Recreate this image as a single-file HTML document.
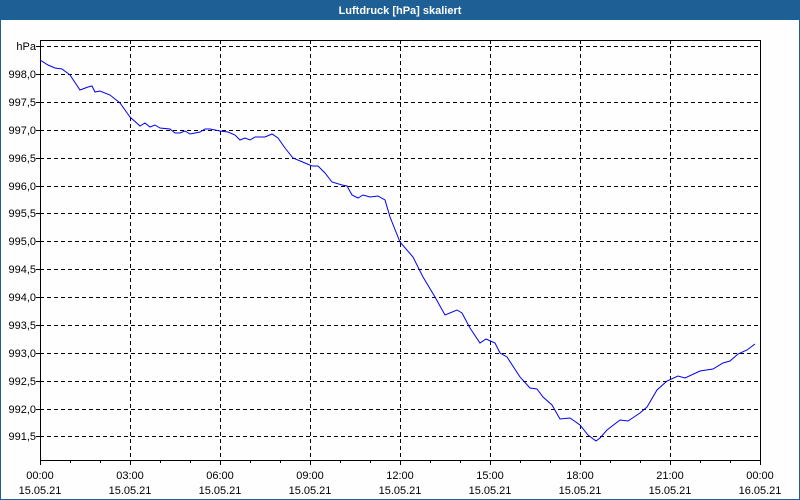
<!DOCTYPE html>
<html><head><meta charset="utf-8"><style>
html,body{margin:0;padding:0;background:#fff;}
svg{display:block;font-family:"Liberation Sans",sans-serif;}
</style></head><body>
<svg width="800" height="500" viewBox="0 0 800 500" xmlns="http://www.w3.org/2000/svg">
<rect x="0" y="0" width="800" height="500" fill="#fefefe"/>
<rect x="0" y="0" width="800" height="20" fill="#1e5f96"/>
<rect x="0.5" y="19.5" width="799" height="480" fill="none" stroke="#1e5f96" stroke-width="1"/>
<text x="400" y="14" text-anchor="middle" font-size="11" font-weight="bold" fill="#fff">Luftdruck [hPa] skaliert</text>
<g stroke="#000" stroke-width="1" stroke-dasharray="4,3" fill="none">
<path d="M40 46.5H760M40 74.5H760M40 102.5H760M40 130.5H760M40 158.5H760M40 186.5H760M40 213.5H760M40 241.5H760M40 269.5H760M40 297.5H760M40 325.5H760M40 353.5H760M40 381.5H760M40 409.5H760M40 436.5H760"/>
<path d="M130.5 40V460M220.5 40V460M310.5 40V460M400.5 40V460M490.5 40V460M580.5 40V460M670.5 40V460"/>
</g>
<rect x="40.5" y="40.5" width="720" height="420" fill="none" stroke="#000" stroke-width="1"/>
<g stroke="#000" stroke-width="1">
<path d="M40.5 460V465M70.5 460V463M100.5 460V463M130.5 460V465M160.5 460V463M190.5 460V463M220.5 460V465M250.5 460V463M280.5 460V463M310.5 460V465M340.5 460V463M370.5 460V463M400.5 460V465M430.5 460V463M460.5 460V463M490.5 460V465M520.5 460V463M550.5 460V463M580.5 460V465M610.5 460V463M640.5 460V463M670.5 460V465M700.5 460V463M730.5 460V463M760.5 460V465"/>
<path d="M36 46.5H40M36 74.5H40M36 102.5H40M36 130.5H40M36 158.5H40M36 186.5H40M36 213.5H40M36 241.5H40M36 269.5H40M36 297.5H40M36 325.5H40M36 353.5H40M36 381.5H40M36 409.5H40M36 436.5H40"/>
</g>
<g font-size="11" fill="#000" text-anchor="end">
<text x="36" y="50">hPa</text>
<text x="36" y="78">998,0</text><text x="36" y="106">997,5</text><text x="36" y="134">997,0</text>
<text x="36" y="162">996,5</text><text x="36" y="190">996,0</text><text x="36" y="217">995,5</text>
<text x="36" y="245">995,0</text><text x="36" y="273">994,5</text><text x="36" y="301">994,0</text>
<text x="36" y="329">993,5</text><text x="36" y="357">993,0</text><text x="36" y="385">992,5</text>
<text x="36" y="413">992,0</text><text x="36" y="440">991,5</text>
</g>
<g font-size="11" fill="#000" text-anchor="middle">
<text x="40" y="479">00:00</text><text x="40" y="494">15.05.21</text>
<text x="130" y="479">03:00</text><text x="130" y="494">15.05.21</text>
<text x="220" y="479">06:00</text><text x="220" y="494">15.05.21</text>
<text x="310" y="479">09:00</text><text x="310" y="494">15.05.21</text>
<text x="400" y="479">12:00</text><text x="400" y="494">15.05.21</text>
<text x="490" y="479">15:00</text><text x="490" y="494">15.05.21</text>
<text x="580" y="479">18:00</text><text x="580" y="494">15.05.21</text>
<text x="670" y="479">21:00</text><text x="670" y="494">15.05.21</text>
<text x="760" y="479">00:00</text><text x="760" y="494">16.05.21</text>
</g>
<polyline fill="none" stroke="#0000ee" stroke-width="1" points="40,60 48,65 55,68 62,69 70,75 80,90 88,87 92,86 95,92 100,91 110,95 120,103 130,117 140,126 145,123 150,127 155,125 160,128 170,129 175,133 180,133 185,131 190,134 195,133 200,132 205,129 210,129 220,131 228,132 235,135 240,140 245,138 250,140 255,137 265,137 272,134 278,138 285,148 293,158 305,163 312,166 318,166 325,173 332,182 342,185 347,186 352,195 358,198 363,195 370,197 378,196 385,200 390,217 400,242 413,257 423,277 435,297 445,315 457,310 462,313 470,328 480,343 486,339 495,343 500,353 507,357 520,377 530,388 537,389 543,397 552,405 560,419 570,418 580,425 588,435 596,441 600,438 607,430 620,420 628,421 640,413 647,407 657,390 667,381 678,376 685,378 700,371 713,369 723,363 730,361 738,354 747,350 755,344"/>
</svg>
</body></html>
